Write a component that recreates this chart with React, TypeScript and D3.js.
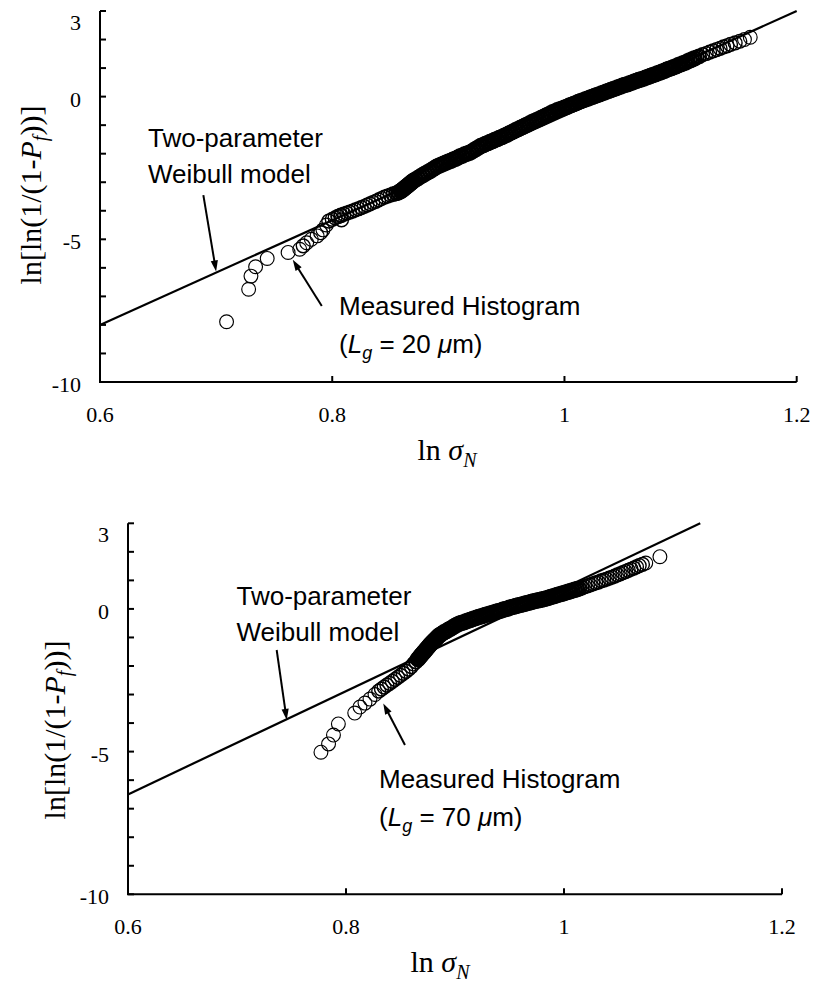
import React from "react";
import * as d3 from "d3";

// Axis ranges and ticks shared by both panels
const xDomain: [number, number] = [0.6, 1.2];
const yDomain: [number, number] = [-10, 3];
const xTickValues = [0.6, 0.8, 1.0, 1.2];
const xTickLabels = ["0.6", "0.8", "1", "1.2"];
const yTickValues = [-10, -9, -8, -7, -6, -5, -4, -3, -2, -1, 0, 1, 2, 3];
const yLabelValues = [3, 0, -5, -10];
const yLabelText = ["3", "0", "-5", "-10"];

// Two-parameter Weibull model lines (ln sigma_N, ln ln(1/(1-Pf)))
const weibullX20 = [0.6, 1.2];
const weibullY20 = [-8.0, 3.0];
const weibullX70 = [0.6, 1.125];
const weibullY70 = [-6.5, 3.0];

// Measured histogram, gauge length 20 um: [ln sigma_N, ln ln(1/(1-Pf))]
const measured20: [number, number][] = [
  [0.709, -7.89], [0.728, -6.75], [0.730, -6.29], [0.734, -5.96], [0.744, -5.67],
  [0.762, -5.46], [0.772, -5.35], [0.775, -5.23], [0.778, -5.12], [0.782, -5.00],
  [0.787, -4.88], [0.790, -4.77], [0.792, -4.67], [0.795, -4.50], [0.797, -4.36],
  [0.800, -4.30], [0.8025, -4.25], [0.805, -4.20], [0.8075, -4.16], [0.808, -4.32],
  [0.810, -4.12], [0.8125, -4.08], [0.815, -4.05], [0.8175, -4.01], [0.820, -3.97],
  [0.8225, -3.93], [0.825, -3.89], [0.8275, -3.85], [0.830, -3.80], [0.8325, -3.76],
  [0.835, -3.71], [0.8375, -3.67], [0.840, -3.62], [0.8425, -3.57], [0.845, -3.52],
  [0.8475, -3.49], [0.850, -3.45], [0.8525, -3.42], [0.855, -3.39], [0.857, -3.36],
  [0.859, -3.31], [0.860, -3.28], [0.861, -3.25], [0.862, -3.22], [0.863, -3.18],
  [0.864, -3.15], [0.865, -3.12], [0.866, -3.08], [0.867, -3.05], [0.868, -3.02],
  [0.869, -2.98], [0.870, -2.95], [0.872, -2.90], [0.874, -2.85], [0.876, -2.80],
  [0.878, -2.75], [0.880, -2.70], [0.882, -2.66], [0.884, -2.61], [0.886, -2.56],
  [0.888, -2.51], [0.890, -2.46], [0.892, -2.42], [0.894, -2.39], [0.896, -2.35],
  [0.898, -2.32], [0.900, -2.28], [0.902, -2.25], [0.904, -2.21], [0.906, -2.18],
  [0.908, -2.14], [0.910, -2.10], [0.912, -2.07], [0.914, -2.03], [0.916, -2.00],
  [0.918, -1.97], [0.920, -1.93], [0.922, -1.88], [0.924, -1.83], [0.926, -1.78],
  [0.928, -1.73], [0.930, -1.70], [0.932, -1.66], [0.934, -1.63], [0.936, -1.59],
  [0.938, -1.56], [0.940, -1.52], [0.942, -1.49], [0.944, -1.45], [0.946, -1.42],
  [0.948, -1.38], [0.950, -1.34], [0.952, -1.30], [0.954, -1.26], [0.956, -1.22],
  [0.958, -1.18], [0.960, -1.14], [0.962, -1.10], [0.964, -1.06], [0.966, -1.02],
  [0.968, -0.98], [0.970, -0.94], [0.972, -0.90], [0.974, -0.86], [0.976, -0.83],
  [0.978, -0.79], [0.980, -0.75], [0.982, -0.71], [0.984, -0.67], [0.986, -0.63],
  [0.988, -0.59], [0.990, -0.55], [0.992, -0.52], [0.994, -0.48], [0.996, -0.45],
  [0.998, -0.42], [1.000, -0.39], [1.002, -0.36], [1.004, -0.32], [1.006, -0.29],
  [1.008, -0.26], [1.010, -0.23], [1.012, -0.19], [1.014, -0.16], [1.016, -0.13],
  [1.018, -0.10], [1.020, -0.07], [1.022, -0.04], [1.024, -0.01], [1.026, 0.02],
  [1.028, 0.05], [1.030, 0.08], [1.032, 0.11], [1.034, 0.14], [1.036, 0.17],
  [1.038, 0.20], [1.040, 0.23], [1.042, 0.26], [1.044, 0.29], [1.046, 0.32],
  [1.048, 0.35], [1.050, 0.38], [1.052, 0.41], [1.054, 0.43], [1.056, 0.46],
  [1.058, 0.49], [1.060, 0.52], [1.062, 0.55], [1.064, 0.58], [1.066, 0.60],
  [1.068, 0.63], [1.070, 0.66], [1.072, 0.69], [1.074, 0.72], [1.076, 0.75],
  [1.078, 0.78], [1.080, 0.81], [1.082, 0.84], [1.084, 0.87], [1.086, 0.90],
  [1.088, 0.94], [1.090, 0.97], [1.092, 1.00], [1.094, 1.03], [1.096, 1.06],
  [1.098, 1.10], [1.100, 1.13], [1.102, 1.16], [1.104, 1.19], [1.106, 1.23],
  [1.108, 1.27], [1.110, 1.30], [1.112, 1.34], [1.114, 1.38], [1.116, 1.41],
  [1.119, 1.47], [1.122, 1.51], [1.125, 1.56], [1.128, 1.60], [1.131, 1.65],
  [1.134, 1.69], [1.137, 1.74], [1.140, 1.78], [1.143, 1.83], [1.147, 1.88],
  [1.151, 1.94], [1.155, 2.00], [1.160, 2.08],
];

// Measured histogram, gauge length 70 um
const measured70: [number, number][] = [
  [0.777, -5.02], [0.784, -4.73], [0.7885, -4.42], [0.793, -4.03], [0.808, -3.65],
  [0.8128, -3.44], [0.8174, -3.30], [0.822, -3.16], [0.8266, -3.00], [0.830, -2.88],
  [0.8325, -2.81], [0.835, -2.74], [0.8375, -2.67], [0.840, -2.61], [0.8425, -2.54],
  [0.845, -2.47], [0.8475, -2.40], [0.850, -2.33], [0.8525, -2.26], [0.855, -2.19],
  [0.8575, -2.11], [0.860, -2.02], [0.862, -1.93], [0.864, -1.85], [0.866, -1.76],
  [0.867, -1.72], [0.868, -1.67], [0.869, -1.62], [0.870, -1.58], [0.871, -1.53],
  [0.872, -1.49], [0.873, -1.44], [0.874, -1.40], [0.875, -1.35], [0.876, -1.31],
  [0.877, -1.26], [0.878, -1.22], [0.879, -1.18], [0.880, -1.14], [0.881, -1.10],
  [0.882, -1.07], [0.883, -1.03], [0.884, -0.99], [0.885, -0.95], [0.886, -0.92],
  [0.888, -0.87], [0.890, -0.82], [0.892, -0.78], [0.894, -0.73], [0.896, -0.69],
  [0.898, -0.64], [0.900, -0.60], [0.902, -0.55], [0.904, -0.52], [0.906, -0.49],
  [0.908, -0.47], [0.910, -0.44], [0.912, -0.41], [0.914, -0.39], [0.916, -0.36],
  [0.918, -0.33], [0.920, -0.31], [0.922, -0.28], [0.924, -0.26], [0.926, -0.24],
  [0.928, -0.21], [0.930, -0.19], [0.932, -0.17], [0.934, -0.15], [0.936, -0.12],
  [0.938, -0.10], [0.940, -0.08], [0.942, -0.06], [0.944, -0.03], [0.946, -0.01],
  [0.948, 0.01], [0.950, 0.04], [0.952, 0.06], [0.954, 0.08], [0.956, 0.10],
  [0.958, 0.12], [0.960, 0.14], [0.962, 0.16], [0.964, 0.18], [0.966, 0.20],
  [0.968, 0.22], [0.970, 0.24], [0.972, 0.26], [0.974, 0.28], [0.976, 0.30],
  [0.978, 0.31], [0.980, 0.33], [0.982, 0.35], [0.984, 0.37], [0.986, 0.39],
  [0.988, 0.42], [0.990, 0.44], [0.992, 0.46], [0.994, 0.49], [0.996, 0.51],
  [0.998, 0.53], [1.000, 0.55], [1.002, 0.58], [1.004, 0.60], [1.006, 0.62],
  [1.008, 0.65], [1.010, 0.67], [1.012, 0.69], [1.014, 0.71],
  [1.0165, 0.74], [1.019, 0.78], [1.0215, 0.81], [1.024, 0.84], [1.0265, 0.88],
  [1.029, 0.91], [1.0315, 0.94], [1.034, 0.98], [1.0365, 1.01], [1.039, 1.04],
  [1.0415, 1.08], [1.044, 1.11], [1.0465, 1.15], [1.049, 1.19], [1.0515, 1.23],
  [1.054, 1.27], [1.0565, 1.31], [1.059, 1.35], [1.0615, 1.39], [1.064, 1.43],
  [1.0665, 1.47], [1.069, 1.52], [1.072, 1.56], [1.075, 1.61], [1.088, 1.83],
];

type Pt = [number, number];
type PanelSpec = {
  left: number;
  top: number;
  width: number;
  height: number;
  gauge: string;
  points: Pt[];
  lineX: number[];
  lineY: number[];
  modelText: Pt;
  measuredText: Pt;
  modelArrow: [Pt, Pt];
  measuredArrow: [Pt, Pt];
  xTitleX: number;
  yTitleX: number;
  yTitleY: number;
};

const panels: PanelSpec[] = [
  {
    left: 100, top: 11, width: 696.7, height: 371,
    gauge: "20", points: measured20, lineX: weibullX20, lineY: weibullY20,
    modelText: [148, 146.7], measuredText: [339, 315],
    modelArrow: [[0.689, -3.45], [0.700, -6.13]],
    measuredArrow: [[0.791, -7.34], [0.766, -5.72]],
    xTitleX: 447, yTitleX: 41, yTitleY: 195,
  },
  {
    left: 128, top: 523.3, width: 654, height: 371,
    gauge: "70", points: measured70, lineX: weibullX70, lineY: weibullY70,
    modelText: [236.5, 605], measuredText: [379, 788.3],
    modelArrow: [[0.7364, -1.44], [0.7456, -3.89]],
    measuredArrow: [[0.8541, -4.77], [0.8342, -3.31]],
    xTitleX: 440, yTitleX: 65, yTitleY: 730,
  },
];

const SERIF = "'Liberation Serif', 'Times New Roman', Times, serif";
const SANS = "'Liberation Sans', Arial, Helvetica, sans-serif";
const MARKER_R = 6.9;

// Where markers pile up along the curve the outlines merge into a solid band;
// heavier strokes for crowded markers reproduce that printed look.
function markerStrokes(px: Pt[]): number[] {
  const reach = 5.6;
  return px.map((a, i) => {
    let n = 0;
    px.forEach((b, j) => {
      if (i !== j && Math.hypot(a[0] - b[0], a[1] - b[1]) < reach) n += 1;
    });
    if (n >= 4) return 2.6;
    if (n === 3) return 1.9;
    if (n === 2) return 1.4;
    return 1.15;
  });
}

function Arrow({ from, to }: { from: Pt; to: Pt }) {
  const [x1, y1] = from;
  const [x2, y2] = to;
  const len = Math.hypot(x2 - x1, y2 - y1);
  const ux = (x2 - x1) / len;
  const uy = (y2 - y1) / len;
  const head = 11;
  const half = 3.6;
  const bx = x2 - ux * head;
  const by = y2 - uy * head;
  return (
    <g>
      <line x1={x1} y1={y1} x2={bx + ux} y2={by + uy} stroke="#000" strokeWidth={2} />
      <polygon
        points={`${x2},${y2} ${bx - uy * half},${by + ux * half} ${bx + uy * half},${by - ux * half}`}
        fill="#000"
      />
    </g>
  );
}

function Panel({ p }: { p: PanelSpec }) {
  const x = d3.scaleLinear().domain(xDomain).range([p.left, p.left + p.width]);
  const y = d3.scaleLinear().domain(yDomain).range([p.top + p.height, p.top]);
  const bottom = p.top + p.height;
  const right = p.left + p.width;

  const linePath = d3
    .line<number>()
    .x((_, i) => x(p.lineX[i]))
    .y((_, i) => y(p.lineY[i]))(p.lineX.map((_, i) => i)) as string;

  const toPx = (d: Pt): Pt => [x(d[0]), y(d[1])];
  const markerPx = p.points.map(toPx);
  const strokes = markerStrokes(markerPx);

  return (
    <g>
      {/* measured histogram circles */}
      <g fill="none" stroke="#000">
        {markerPx.map((d, i) => (
          <circle key={i} cx={d[0]} cy={d[1]} r={MARKER_R} strokeWidth={strokes[i]} />
        ))}
      </g>

      {/* Weibull model */}
      <path d={linePath} fill="none" stroke="#000" strokeWidth={2.2} />

      {/* axes */}
      <path
        d={`M${p.left},${p.top}V${bottom}H${right}`}
        fill="none"
        stroke="#000"
        strokeWidth={2}
      />
      {yTickValues.map((v) => (
        <line key={`yt${v}`} x1={p.left} x2={p.left + 6} y1={y(v)} y2={y(v)} stroke="#000" strokeWidth={2} />
      ))}
      {xTickValues.map((v) => (
        <line key={`xt${v}`} x1={x(v)} x2={x(v)} y1={bottom} y2={bottom - 6} stroke="#000" strokeWidth={2} />
      ))}

      {/* tick labels */}
      <g fontFamily={SERIF} fontSize={22} fill="#000">
        {yLabelValues.map((v, i) => (
          <text key={`yl${v}`} x={p.left - 19} y={Math.max(y(v) + 10, p.top + 19)} textAnchor="end">
            {yLabelText[i]}
          </text>
        ))}
        {xTickValues.map((v, i) => (
          <text key={`xl${v}`} x={x(v)} y={bottom + 40} textAnchor="middle">
            {xTickLabels[i]}
          </text>
        ))}
      </g>

      {/* axis titles */}
      <text x={p.xTitleX} y={bottom + 78} textAnchor="middle" fontFamily={SERIF} fontSize={30}>
        {"ln "}
        <tspan fontStyle="italic">σ</tspan>
        <tspan fontStyle="italic" fontSize={20} dy={7}>N</tspan>
      </text>
      <text
        transform={`translate(${p.yTitleX},${p.yTitleY}) rotate(-90)`}
        textAnchor="middle"
        fontFamily={SERIF}
        fontSize={30}
      >
        {"ln[ln(1/(1-"}
        <tspan fontStyle="italic">P</tspan>
        <tspan fontStyle="italic" fontSize={20} dy={6}>f</tspan>
        <tspan dy={-6}>{"))]"}</tspan>
      </text>

      {/* annotations */}
      <g fontFamily={SANS} fontSize={26} fill="#000">
        <text x={p.modelText[0]} y={p.modelText[1]}>Two-parameter</text>
        <text x={p.modelText[0]} y={p.modelText[1] + 36}>Weibull model</text>
        <text x={p.measuredText[0]} y={p.measuredText[1]}>Measured Histogram</text>
        <text x={p.measuredText[0]} y={p.measuredText[1] + 38}>
          {"("}
          <tspan fontStyle="italic">L</tspan>
          <tspan fontStyle="italic" fontSize={18} dy={6}>g</tspan>
          <tspan dy={-6}>{` = ${p.gauge} `}</tspan>
          <tspan fontStyle="italic">μ</tspan>
          <tspan>{"m)"}</tspan>
        </text>
      </g>
      <Arrow from={toPx(p.modelArrow[0])} to={toPx(p.modelArrow[1])} />
      <Arrow from={toPx(p.measuredArrow[0])} to={toPx(p.measuredArrow[1])} />
    </g>
  );
}

export default function App() {
  return (
    <svg
      width={817}
      height={985}
      viewBox="0 0 817 985"
      style={{ position: "absolute", left: 0, top: 0, background: "#fff" }}
    >
      <rect x={0} y={0} width={817} height={985} fill="#fff" />
      {panels.map((p, i) => (
        <Panel key={i} p={p} />
      ))}
    </svg>
  );
}
